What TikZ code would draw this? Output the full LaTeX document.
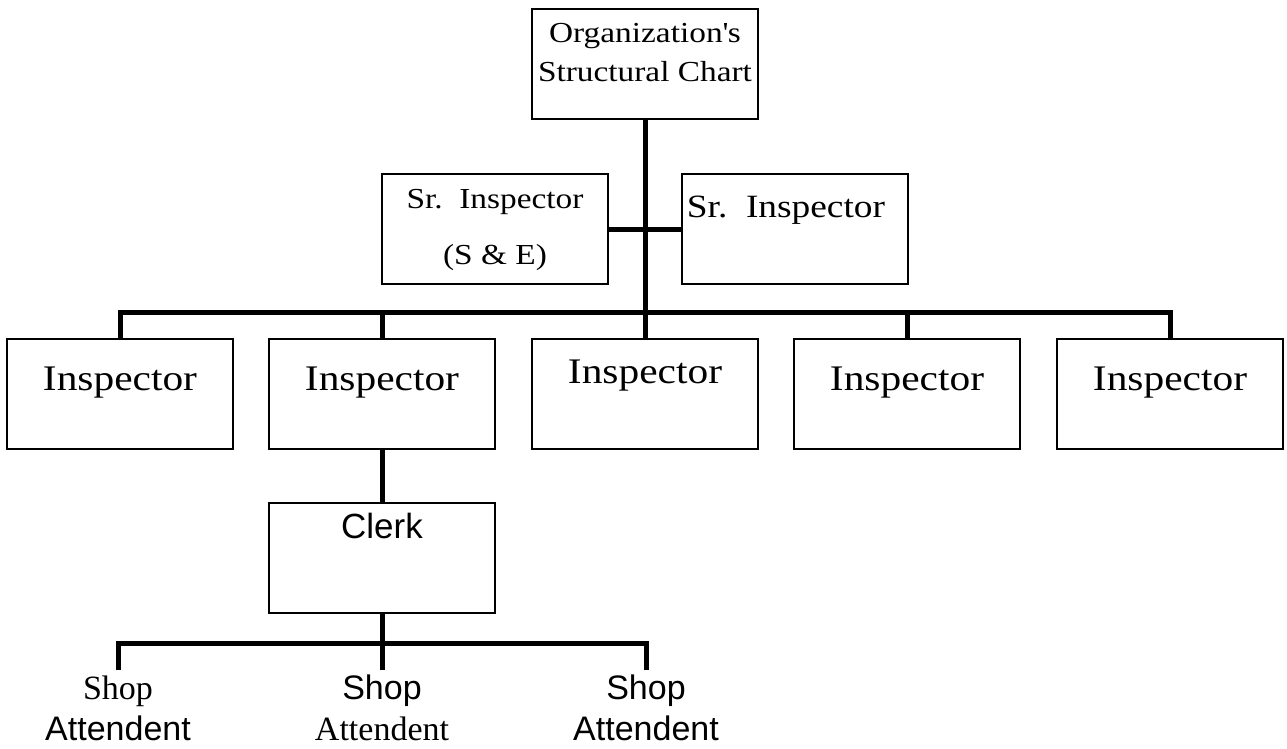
\documentclass[tikz,border=0pt]{standalone}
\usepackage{fontspec}
\newfontfamily\geo{Liberation Serif}[FakeStretch=1.15]
\newfontfamily\tms{Liberation Serif}
\newfontfamily\ari{Liberation Sans}
\usetikzlibrary{calc}
\begin{document}
\begin{tikzpicture}[x=1pt,y=-1pt,
  box/.style={draw,line width=1.5pt,minimum width=226pt,minimum height=110pt,inner sep=0pt},
  conn/.style={line width=5pt},
  itext/.style={font=\geo\fontsize{36}{40}\selectfont,inner sep=0pt,anchor=base},
  stext/.style={font=\geo\fontsize{29}{40}\selectfont,inner sep=0pt,anchor=base},
  ttext/.style={font=\geo\fontsize{29}{40}\selectfont,inner sep=0pt,anchor=base},
  satext/.style={font=\ari\fontsize{34}{40}\selectfont,inner sep=0pt,anchor=base},
  sttext/.style={font=\tms\fontsize{34}{40}\selectfont,inner sep=0pt,anchor=base}]
\useasboundingbox (0,0) rectangle (1287,749);
% top
\node[box] (top) at (645,64) {};
\node[ttext] (t1) at (645,43) {Organization\textquotesingle s};
\node[ttext] (t2) at (645,82) {Structural Chart};
% senior inspectors
\node[box] (s1) at (495,229) {};
\node[stext] (s1a) at (495,208) {Sr.\ \ Inspector};
\node[stext] (s1b) at (495,264) {(S \& E)};
\node[box] (s2) at (795,229) {};
\node[stext,font=\geo\fontsize{32.5}{40}\selectfont] (s2a) at (786,217) {Sr.\ \ Inspector};
% inspectors
\node[box] (i1) at (120,394) {};
\node[box] (i2) at (382,394) {};
\node[box] (i3) at (645,394) {};
\node[box] (i4) at (907,394) {};
\node[box] (i5) at (1170,394) {};
\node[itext] at (120,390) {Inspector};
\node[itext] at (382,390) {Inspector};
\node[itext] at (645,383) {Inspector};
\node[itext] at (907,390) {Inspector};
\node[itext] at (1170,390) {Inspector};
% clerk
\node[box] (clerk) at (382,558) {};
\node[font=\ari\fontsize{35}{40}\selectfont,inner sep=0pt,anchor=base] at (382,538) {Clerk};
% shop attendents
\coordinate (d1) at (118,670);
\coordinate (d2) at (382,670);
\coordinate (d3) at (646,670);
\node[sttext] (a1s) at (118,699) {Shop};
\node[satext] (a1a) at (118,740) {Attendent};
\node[satext] (a2s) at (382,699) {Shop};
\node[sttext] (a2a) at (382,740) {Attendent};
\node[satext] (a3s) at (646,699) {Shop};
\node[satext] (a3a) at (646,740) {Attendent};
% connectors
\draw[conn] (top.south) -- (i3.north);
\draw[conn] (s1.east) -- (s2.west);
\draw[conn] (i1.north) -- ++(0,-26) -| (i5.north);
\draw[conn] (i2.north) -- ++(0,-26);
\draw[conn] (i4.north) -- ++(0,-26);
\draw[conn] (i2.south) -- (clerk.north);
\draw[conn] (clerk.south) -- ++(0,30) coordinate (bb);
\draw[conn] (d1) -- (d1|-bb) -- (d3|-bb) -- (d3);
\draw[conn] (bb) -- (d2);
\end{tikzpicture}
\end{document}
